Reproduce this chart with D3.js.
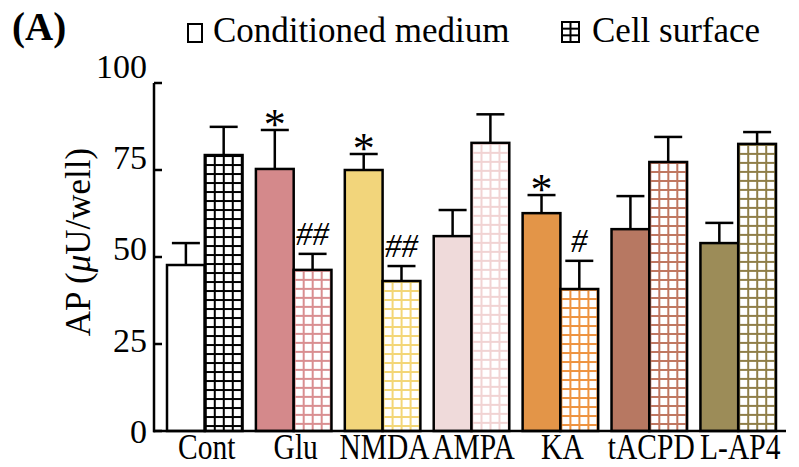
<!DOCTYPE html>
<html><head><meta charset="utf-8">
<script src="https://cdnjs.cloudflare.com/ajax/libs/d3/7.8.5/d3.min.js"></script>
<style>body{margin:0;background:#fff}svg{display:block}text{font-family:"Liberation Serif","Times New Roman",serif;fill:#000}</style>
</head><body><svg id="c" width="799" height="467"></svg>
<script>
const categories = ["Cont","Glu","NMDA","AMPA","KA","tACPD","L-AP4"];
const seriesNames = ["Conditioned medium","Cell surface"];
const medium = [47.7,75.3,75.0,56.0,62.6,58.0,54.0];
const mediumErr = [6.3,11.2,4.6,7.5,5.2,9.5,5.8];
const surface = [79.3,46.3,43.1,82.8,40.8,77.3,82.5];
const surfaceErr = [8.1,4.6,4.3,8.2,8.1,7.2,3.4];
const mediumMarks = ["","*","*","","*","",""];
const surfaceMarks = ["","##","##","","#","",""];
const yTicks = [0,25,50,75,100];
const colors = ["#ffffff","#d4898b","#f2d57b","#efdada","#e39548","#b77862","#9c8c58"];
const gridColors = ["#000000","#d98e90","#f3d676","#f1d3d3","#ee9340","#c07760","#8f7e48"];

const svg = d3.select("#c");
const y = d3.scaleLinear().domain([0,100]).range([431,83]);
const x = d3.scaleBand().domain(categories).range([167,776]).paddingInner(0.15).paddingOuter(0);
const bw = x.bandwidth()/2;
const defs = svg.append("defs");
const cell = 9;

const bars = [];
categories.forEach((c,i)=>{
  bars.push({c,i,s:0,v:medium[i],e:medium[i]+mediumErr[i],m:mediumMarks[i],x0:x(c)});
  bars.push({c,i,s:1,v:surface[i],e:surface[i]+surfaceErr[i],m:surfaceMarks[i],x0:x(c)+bw});
});
bars.forEach((b,k)=>{
  if(b.s===1){
    const p = defs.append("pattern").attr("id","g"+k).attr("patternUnits","userSpaceOnUse")
      .attr("width",cell).attr("height",cell)
      .attr("patternTransform",`translate(${b.x0},${y(b.v)})`);
    p.append("rect").attr("width",cell).attr("height",cell).attr("fill","#fff");
    p.append("rect").attr("x",0).attr("y",0).attr("width",2).attr("height",cell).attr("fill",gridColors[b.i]);
    p.append("rect").attr("x",0).attr("y",0).attr("width",cell).attr("height",2).attr("fill",gridColors[b.i]);
  }
});
const eg = svg.append("g").attr("stroke","#000").attr("stroke-width",2.5);
bars.forEach(b=>{
  const cx = b.x0+bw/2;
  eg.append("line").attr("x1",cx).attr("x2",cx).attr("y1",y(b.v)).attr("y2",y(b.e));
  eg.append("line").attr("x1",cx-14).attr("x2",cx+14).attr("y1",y(b.e)).attr("y2",y(b.e));
});
svg.append("g").selectAll("rect").data(bars).join("rect")
  .attr("x",d=>d.x0).attr("y",d=>y(d.v)).attr("width",bw).attr("height",d=>y(0)-y(d.v))
  .attr("fill",(d,k)=>d.s===0?colors[d.i]:`url(#g${k})`)
  .attr("stroke","#000").attr("stroke-width",2.5);
svg.append("g").selectAll("text").data(bars.filter(b=>b.m)).join("text")
  .attr("x",d=>d.x0+bw/2).attr("y",d=>y(d.e)-(d.m==="*"?-9:9))
  .attr("text-anchor","middle").attr("font-size",d=>d.m==="*"?44:33)
  .attr("font-style",d=>d.m==="*"?"normal":"italic").text(d=>d.m);

svg.append("line").attr("x1",154).attr("x2",154).attr("y1",y(100)).attr("y2",y(0)+1.25).attr("stroke","#000").attr("stroke-width",2.5);
svg.append("line").attr("x1",153).attr("x2",786).attr("y1",y(0)).attr("y2",y(0)).attr("stroke","#000").attr("stroke-width",2.5);
const tg = svg.append("g");
yTicks.forEach(t=>{
  tg.append("line").attr("x1",154).attr("x2",162).attr("y1",y(t)).attr("y2",y(t)).attr("stroke","#000").attr("stroke-width",2.5);
  tg.append("text").attr("x",147).attr("y",y(t)-t*0.17).attr("dy","0.35em").attr("text-anchor","end")
    .attr("font-size",34).text(t);
});
svg.append("g").selectAll("text").data(categories).join("text")
  .attr("transform",d=>`translate(${x(d)+x.bandwidth()/2+2},459) scale(0.82,1)`).attr("text-anchor","middle")
  .attr("font-size",36).text(d=>d);

const yt = svg.append("text").attr("transform","translate(90,242) rotate(-90)").attr("text-anchor","middle").attr("font-size",35);
yt.append("tspan").text("AP (");
yt.append("tspan").attr("font-style","italic").text("μ");
yt.append("tspan").text("U/well)");

svg.append("text").attr("x",12).attr("y",40).attr("font-size",39).attr("font-weight","bold").text("(A)");

const lg = svg.append("g");
const lx = [188,562], ltx=[213,592];
seriesNames.forEach((n,i)=>{
  if(i===0){
    lg.append("rect").attr("x",lx[i]).attr("y",24).attr("width",14).attr("height",18).attr("fill","#fff").attr("stroke","#000").attr("stroke-width",2);
  } else {
    lg.append("rect").attr("x",lx[i]).attr("y",22).attr("width",17).attr("height",20).attr("fill","#fff").attr("stroke","#000").attr("stroke-width",2);
    lg.append("line").attr("x1",lx[i]+8.5).attr("x2",lx[i]+8.5).attr("y1",22).attr("y2",42).attr("stroke","#000").attr("stroke-width",2);
    [1/3,2/3].forEach(f=>lg.append("line").attr("x1",lx[i]).attr("x2",lx[i]+17).attr("y1",22+20*f).attr("y2",22+20*f).attr("stroke","#000").attr("stroke-width",2));
  }
  lg.append("text").attr("x",ltx[i]).attr("y",42).attr("font-size",35).text(n);
});
</script></body></html>
